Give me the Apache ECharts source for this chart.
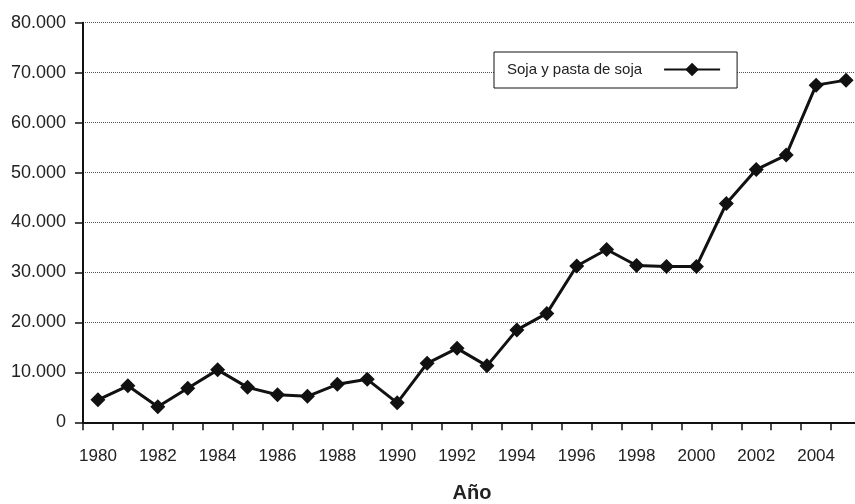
<!DOCTYPE html>
<html>
<head>
<meta charset="utf-8">
<script src="https://cdn.jsdelivr.net/npm/echarts@6/dist/echarts.min.js"></script>
<style>
  html, body { margin: 0; padding: 0; background: #fff; }
  #chart { width: 855px; height: 504px; }
</style>
</head>
<body>
<div id="chart"></div>
<script>
// Años de la serie
const years = ['1980','1981','1982','1983','1984','1985','1986','1987','1988','1989',
  '1990','1991','1992','1993','1994','1995','1996','1997','1998','1999',
  '2000','2001','2002','2003','2004','2005'];

// Soja y pasta de soja
const sojaValues = [4500, 7300, 3100, 6800, 10500, 7000, 5500, 5200, 7600, 8600,
  3900, 11800, 14800, 11300, 18500, 21800, 31300, 34600, 31400, 31200,
  31200, 43800, 50600, 53500, 67500, 68500];

const seriesName = 'Soja y pasta de soja';
const axisTitle = 'Año';

const fontFamily = '"Liberation Sans", Arial, sans-serif';
const narrowFamily = '"Liberation Sans Narrow", "Arial Narrow", "Liberation Sans", sans-serif';
const ink = '#222';

// Miles con punto: 80000 -> 80.000
function thousands(v) {
  return String(v).replace(/\B(?=(\d{3})+(?!\d))/g, '.');
}

const chart = echarts.init(document.getElementById('chart'), null, { renderer: 'canvas' });

chart.setOption({
  animation: false,
  backgroundColor: '#fff',
  textStyle: { fontFamily: fontFamily, color: ink },
  grid: {
    left: 83, top: 22.7, width: 778, height: 399.6,
    containLabel: false,
    outerBoundsMode: 'none'
  },
  legend: {
    data: [seriesName],
    left: 494,
    top: 52,
    orient: 'horizontal',
    align: 'right',
    backgroundColor: '#fff',
    borderColor: '#111',
    borderWidth: 1,
    borderRadius: 0,
    padding: [10, 16, 11, 13],
    itemWidth: 56,
    itemHeight: 17,
    textStyle: { fontSize: 15, color: ink, fontFamily: fontFamily, padding: [0, 17, 0, 0] }
  },
  xAxis: {
    type: 'category',
    data: years,
    boundaryGap: true,
    name: axisTitle,
    nameLocation: 'middle',
    nameGap: 61,
    nameTextStyle: { fontSize: 20, fontWeight: 'bold', color: ink, fontFamily: narrowFamily },
    axisLine: { lineStyle: { color: '#111', width: 2 } },
    axisTick: { show: true, interval: 0, length: 8, lineStyle: { color: '#111', width: 1.5 } },
    axisLabel: { interval: 1, margin: 26, fontSize: 17, color: ink, fontFamily: fontFamily },
    splitLine: { show: false }
  },
  yAxis: {
    type: 'value',
    min: 0,
    max: 80000,
    interval: 10000,
    axisLine: { show: true, lineStyle: { color: '#111', width: 2 } },
    axisTick: { show: true, length: 8, lineStyle: { color: '#111', width: 1.5 } },
    axisLabel: { margin: 17, fontSize: 18, color: ink, fontFamily: fontFamily, formatter: thousands },
    splitLine: { show: true, lineStyle: { color: '#555', type: 'dotted', width: 1 } }
  },
  series: [{
    name: seriesName,
    type: 'line',
    data: sojaValues,
    symbol: 'diamond',
    symbolSize: 15,
    showAllSymbol: true,
    lineStyle: { color: '#111', width: 3 },
    itemStyle: { color: '#111', borderWidth: 0 },
    z: 3
  }]
});
</script>
</body>
</html>
